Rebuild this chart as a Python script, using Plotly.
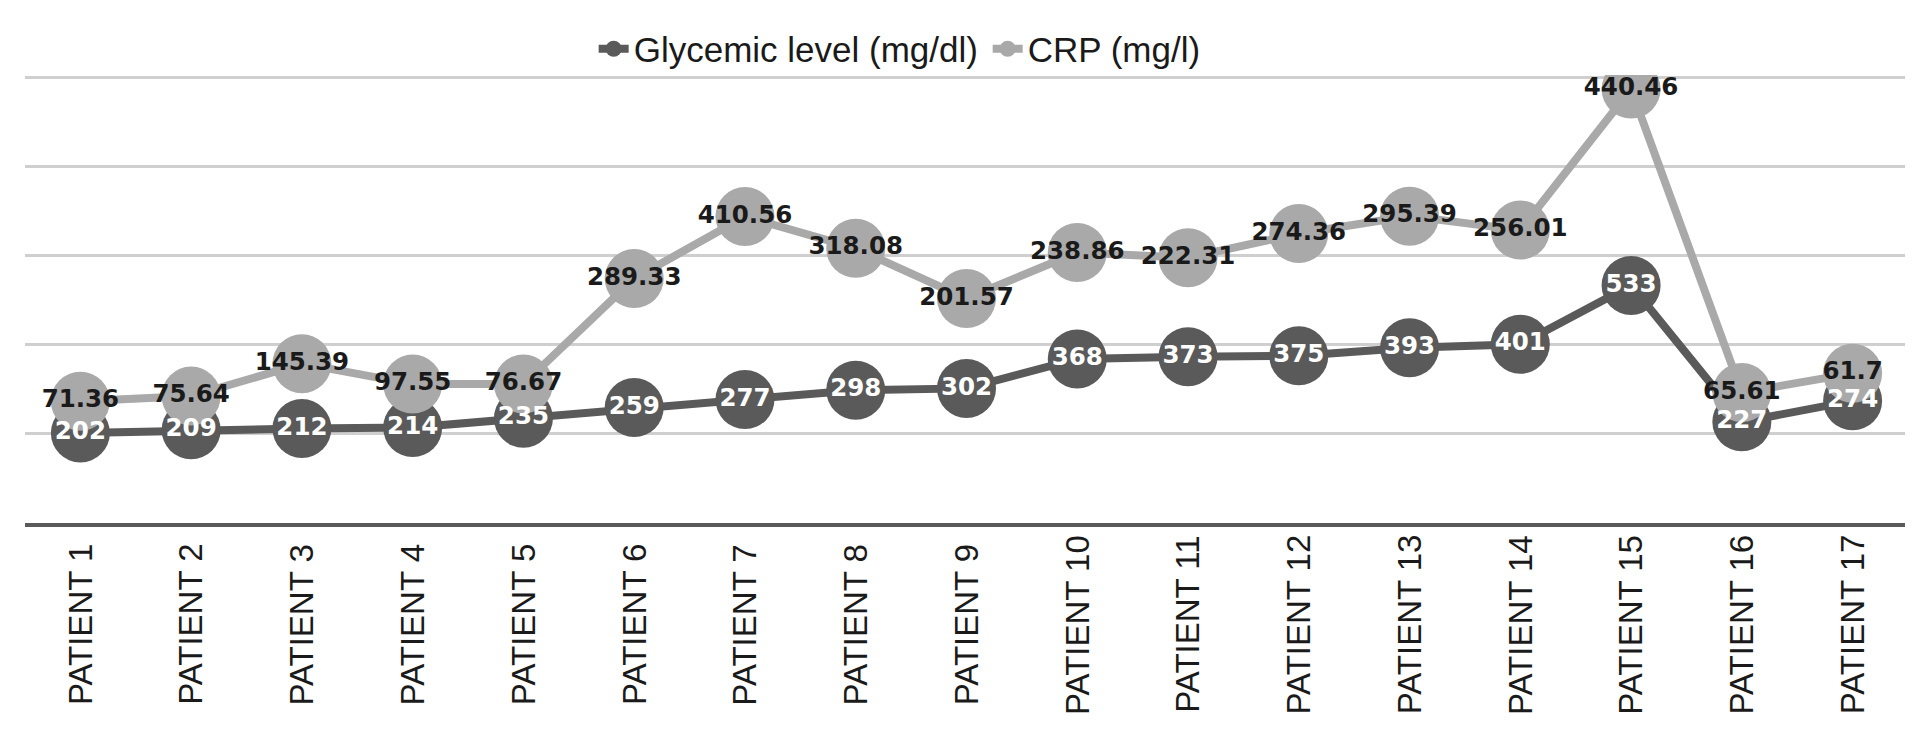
import plotly.graph_objects as go

patients = [f"PATIENT {i}" for i in range(1, 18)]
glycemic = [202, 209, 212, 214, 235, 259, 277, 298, 302, 368, 373, 375, 393, 401, 533, 227, 274]
crp = [71.36, 75.64, 145.39, 97.55, 76.67, 289.33, 410.56, 318.08, 201.57, 238.86,
       222.31, 274.36, 295.39, 256.01, 440.46, 65.61, 61.7]
crp_labels = ["71.36", "75.64", "145.39", "97.55", "76.67", "289.33", "410.56", "318.08", "201.57",
              "238.86", "222.31", "274.36", "295.39", "256.01", "440.46", "65.61", "61.7"]

DARK = "#5a5a5a"
LIGHT = "#a9a9a9"
LABEL_FONT = "DejaVu Sans"

fig = go.Figure()
# series (stacked line chart, as in the original)
fig.add_trace(go.Scatter(
    x=patients, y=glycemic, name="Glycemic level (mg/dl)", mode="lines+markers",
    stackgroup="series", fill="none",
    line=dict(color=DARK, width=8), marker=dict(color=DARK, size=59),
))
fig.add_trace(go.Scatter(
    x=patients, y=crp, name="CRP (mg/l)", mode="lines+markers",
    stackgroup="series", fill="none",
    line=dict(color=LIGHT, width=8), marker=dict(color=LIGHT, size=59),
))
# data labels drawn above all series
fig.add_trace(go.Scatter(
    x=patients, y=glycemic, mode="text", stackgroup="labels", fill="none",
    text=[str(v) for v in glycemic], textposition="middle center",
    textfont=dict(family=LABEL_FONT, size=24.5, color="white", weight="bold"),
    showlegend=False, hoverinfo="skip",
))
fig.add_trace(go.Scatter(
    x=patients, y=crp, mode="text", stackgroup="labels", fill="none",
    text=crp_labels, textposition="middle center",
    textfont=dict(family=LABEL_FONT, size=24.5, color="#1a1a1a", weight="bold"),
    showlegend=False, hoverinfo="skip",
))

# category labels, rotated and centred vertically (as in the original)
for p in patients:
    fig.add_annotation(
        x=p, xref="x", y=-0.227, yref="paper", text=p, textangle=-90,
        showarrow=False, xanchor="center", yanchor="middle",
        font=dict(family="Liberation Sans", size=33, color="#1a1a1a"),
    )

fig.update_layout(
    width=1913, height=730,
    margin=dict(l=17, r=13, t=53, b=214.5),
    plot_bgcolor="white", paper_bgcolor="white",
    showlegend=True,
    legend=dict(
        orientation="h", x=0.302, xanchor="left", y=1.058, yanchor="middle",
        font=dict(family="Liberation Sans", size=35, color="#1a1a1a"),
        entrywidth=349, entrywidthmode="pixels",
        bgcolor="rgba(0,0,0,0)",
    ),
    xaxis=dict(
        type="category", range=[-0.5, 16.5], showticklabels=False,
        showline=True, linecolor=DARK, linewidth=4,
        showgrid=False, ticks="",
    ),
    yaxis=dict(
        range=[0, 1005], dtick=200, showticklabels=False,
        showgrid=True, gridcolor="#cfcfcf", gridwidth=3,
        zeroline=False, showline=False,
    ),
)

fig.write_html("out.html")
